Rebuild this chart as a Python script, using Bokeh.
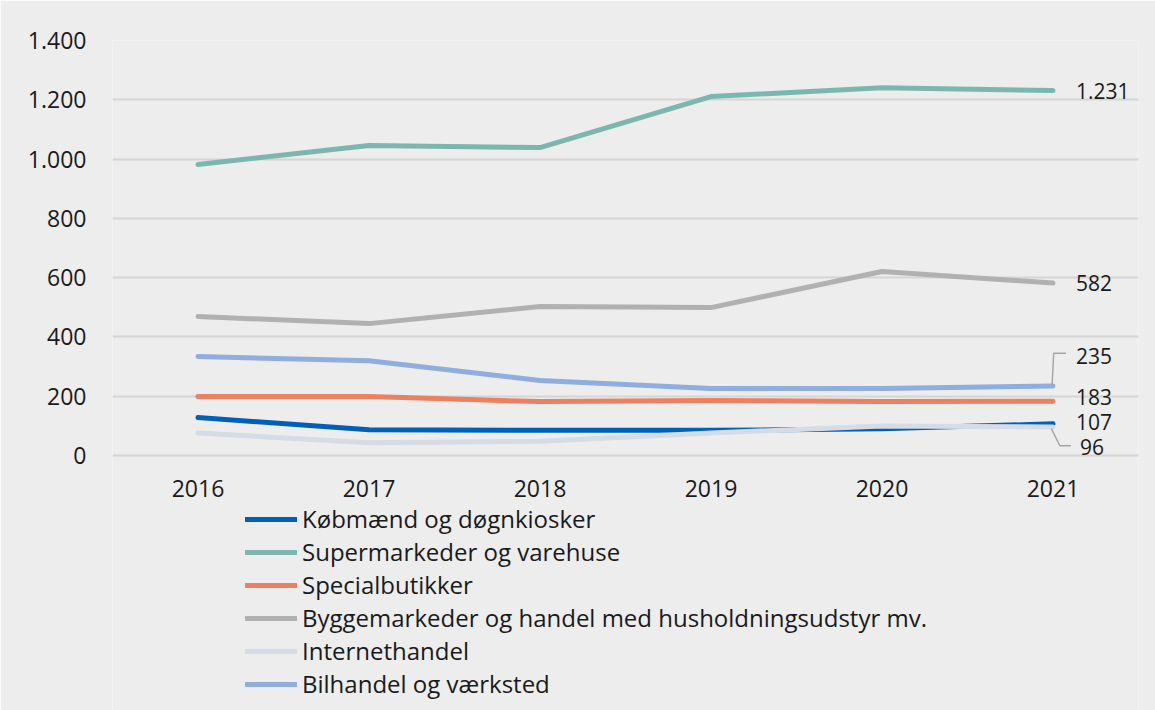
from bokeh.plotting import figure
from bokeh.models import Range1d, FixedTicker, Legend, LegendItem
from bokeh.core.properties import value
from bokeh.embed import file_html
from bokeh.resources import INLINE

years = [2016, 2017, 2018, 2019, 2020, 2021]
koebmaend = [128, 87, 85, 85, 90, 107]
supermarkeder = [982, 1046, 1039, 1211, 1241, 1231]
special = [199, 199, 182, 186, 182, 183]
bygge = [469, 445, 503, 499, 621, 582]
internet = [76, 43, 48, 76, 100, 96]
bilhandel = [334, 320, 253, 226, 226, 235]

series_names = [
    "Købmænd og døgnkiosker",
    "Supermarkeder og varehuse",
    "Specialbutikker",
    "Byggemarkeder og handel med husholdningsudstyr mv.",
    "Internethandel",
    "Bilhandel og værksted",
]
series_values = [koebmaend, supermarkeder, special, bygge, internet, bilhandel]
colors = ["#005fb8", "#7cb7af", "#ec8060", "#b1b1b1", "#d5dce5", "#8fadde"]

y_ticks = [0, 200, 400, 600, 800, 1000, 1200, 1400]
y_tick_labels = ["0", "200", "400", "600", "800", "1.000", "1.200", "1.400"]

end_labels = ["107", "1.231", "183", "582", "96", "235"]
# label anchor value (where the text sits) for each series
label_pos = [112, 1231, 199, 582, 30, 335]

FONT = "Open Sans"
BG = "#ededed"

# frame extends below zero to hold the legend; x axis is pinned at y=0
p = figure(width=1155, height=710, output_backend="svg", toolbar_location=None,
           x_range=Range1d(2015.5, 2021.5), y_range=Range1d(-860, 1400),
           background_fill_color=BG, border_fill_color=BG,
           min_border_left=112, min_border_right=17, min_border_top=40,
           min_border_bottom=0)
p.outline_line_color = None

# series drawn in legend order (later series on top)
renderers = {}
for i in range(6):
    r = p.line(years, series_values[i], line_color=colors[i], line_width=5,
               line_cap="round", line_join="round")
    renderers[i] = r

# end-of-series labels
p.text(x=[years[-1]] * 6, y=label_pos, text=end_labels,
       x_offset=[23, 23, 23, 23, 27, 23],
       text_font=value(FONT), text_font_size="21px", text_color="#1a1a1a",
       text_baseline="middle", text_align="left")

# leader lines for displaced labels (235 and 96)
xs_lead = [[2021 - 0.005, 2021 + 0.004, 2021 + 0.076],
           [2021 - 0.01, 2021 + 0.04, 2021 + 0.105]]
ys_lead = [[bilhandel[-1] + 5, 345, 345],
           [internet[-1] - 5, 33, 33]]
p.multi_line(xs_lead, ys_lead, line_color="#a6a6a6", line_width=1.5)

# axes
p.xaxis.ticker = FixedTicker(ticks=years)
p.xaxis.fixed_location = 0
p.yaxis.ticker = FixedTicker(ticks=y_ticks)
p.yaxis.major_label_overrides = {t: l for t, l in zip(y_ticks, y_tick_labels)}
for ax in (p.xaxis, p.yaxis):
    ax.axis_line_color = None
    ax.major_tick_line_color = None
    ax.minor_tick_line_color = None
    ax.major_label_text_font = FONT
    ax.major_label_text_font_size = "23px"
    ax.major_label_text_color = "#1a1a1a"
p.xaxis.major_label_standoff = 18
p.yaxis.major_label_standoff = 20

p.xgrid.grid_line_color = None
p.ygrid.grid_line_color = "#d5d5d5"
p.ygrid.grid_line_width = 2

items = [LegendItem(label=series_names[i], renderers=[renderers[i]]) for i in range(6)]
legend = Legend(items=items, location=(133, 10), orientation="vertical",
                label_text_font=FONT, label_text_font_size="24px",
                label_text_color="#1a1a1a",
                glyph_width=52, glyph_height=32, label_height=32,
                label_standoff=5, spacing=0, padding=0, margin=0,
                background_fill_alpha=0, border_line_color=None)
p.add_layout(legend, "center")

open("out.html", "w").write(file_html(p, INLINE))
